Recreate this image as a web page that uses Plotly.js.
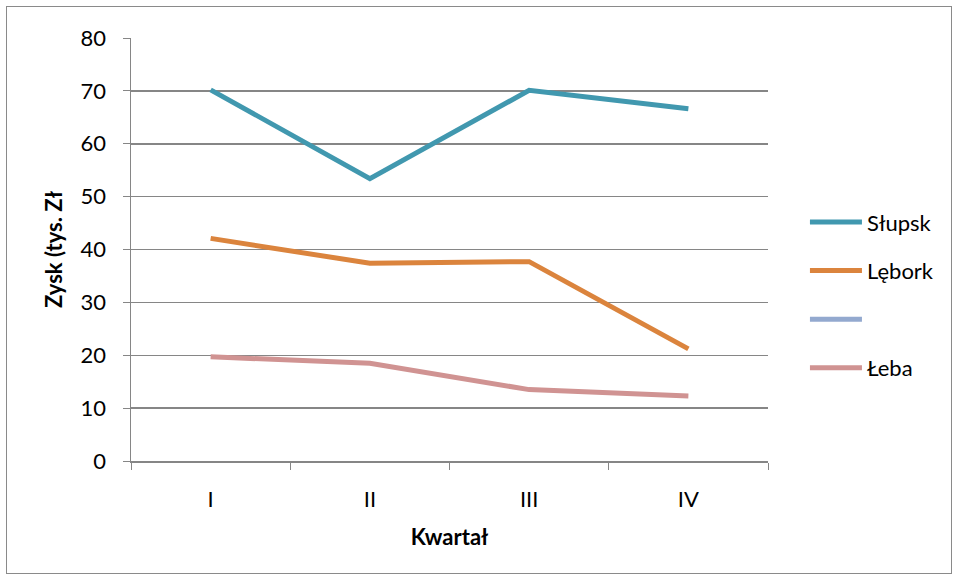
<!DOCTYPE html>
<html>
<head>
<meta charset="utf-8">
<script src="https://cdn.plot.ly/plotly-3.0.1.min.js"></script>
<style>
  html, body { margin: 0; padding: 0; background: #fff; }
  #wrap { position: relative; width: 958px; height: 580px; }
  #chart { width: 958px; height: 580px; }
  #frame { position: absolute; left: 6px; top: 6px; width: 944px; height: 566px; border: 1px solid #8a8a8a; pointer-events: none; }
</style>
</head>
<body>
<div id="wrap">
  <div id="chart"></div>
  <div id="frame"></div>
</div>
<script>
const categories = ["I", "II", "III", "IV"];
const slupsk = [70.2, 53.4, 70.1, 66.6];
const lebork = [42.1, 37.4, 37.7, 21.2];
const empty = [null, null, null, null];
const leba = [19.7, 18.5, 13.5, 12.3];
const yTicks = [0, 10, 20, 30, 40, 50, 60, 70, 80];

const font = "Lato, 'Open Sans', sans-serif";
const fs = 22;

function tr(name, y, color, grp) {
  return {
    x: categories, y: y, name: name, type: "scatter", mode: "lines",
    line: { color: color, width: 5 }, showlegend: true, legendgroup: grp,
    connectgaps: false
  };
}

const data = [
  tr("Słupsk", slupsk, "#4198AF", "a"),
  tr("Lębork", lebork, "#DB843D", "b"),
  tr(" ", empty, "#93A9CF", "c"),
  tr("Łeba", leba, "#D09392", "d")
];

const layout = {
  width: 958, height: 580,
  margin: { l: 131, r: 190, t: 38, b: 119 },
  paper_bgcolor: "#fff", plot_bgcolor: "#fff",
  font: { family: font, size: fs, color: "#000" },
  showlegend: true,
  legend: {
    x: 1.058, xanchor: "left", y: 0.392, yanchor: "middle",
    font: { family: font, size: fs, color: "#000" },
    tracegroupgap: 17, itemwidth: 52, bgcolor: "rgba(0,0,0,0)"
  },
  xaxis: {
    type: "category", range: [-0.5, 3.5],
    tickson: "boundaries", ticks: "outside", ticklen: 7, tickcolor: "#868686",
    showline: true, linecolor: "#868686", linewidth: 1.5,
    showgrid: false, zeroline: false,
    ticklabelstandoff: 18,
    tickfont: { family: font, size: fs, color: "#000" },
    title: { text: "<b>Kwartał</b>", font: { family: font, size: fs, color: "#000" }, standoff: 18 }
  },
  yaxis: {
    range: [0, 80], tickvals: yTicks, ticktext: yTicks.map(String),
    ticks: "outside", ticklen: 7, tickcolor: "#868686",
    showline: true, linecolor: "#868686", linewidth: 1.5,
    showgrid: true, gridcolor: "#868686", gridwidth: 1.5, zeroline: false,
    ticklabelstandoff: 12,
    tickfont: { family: font, size: fs, color: "#000" },
    title: { text: "<b>Zysk (tys. Zł</b>", font: { family: font, size: fs, color: "#000" }, standoff: 12 }
  }
};

Plotly.newPlot("chart", data, layout, { staticPlot: true, displayModeBar: false });
</script>
</body>
</html>
